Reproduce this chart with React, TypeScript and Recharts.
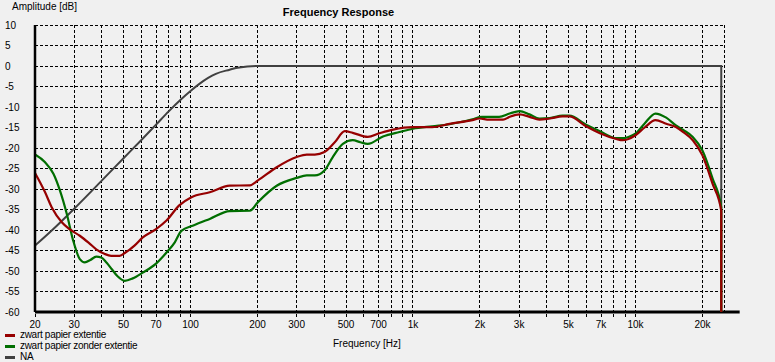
import React from 'react';
import { LineChart, Line, XAxis, YAxis, CartesianGrid, ReferenceLine } from 'recharts';

const redFreq = [20, 22.2, 23.8, 26.4, 28.6, 31.8, 35, 37.7, 41, 44, 48, 51, 56, 61, 70, 78, 89, 101, 122, 150, 185, 201, 244, 300, 333, 362, 400, 445, 494, 536, 626, 707, 814, 1000, 1220, 1460, 1850, 1990, 2200, 2540, 2720, 3010, 3340, 3700, 4120, 4700, 5040, 6000, 6920, 8200, 8760, 9300, 10000, 11000, 12300, 13750, 15200, 16400, 18100, 20000, 22200, 24300, 24301];
const redDb = [-26.1, -30.8, -34.5, -38.1, -39.8, -41.4, -43.2, -44.7, -45.8, -46.3, -46.3, -45.5, -43.8, -41.8, -39.8, -37.7, -34, -32, -30.8, -29.2, -29.1, -27.9, -24.7, -22.2, -21.6, -21.6, -21, -18.6, -15.9, -16.3, -17.3, -16.4, -15.5, -14.9, -14.9, -14.1, -13.2, -12.8, -13.1, -13.1, -12.4, -11.8, -12.4, -13.1, -12.8, -12.3, -12.3, -14.7, -16.4, -17.8, -18.1, -17.8, -16.9, -15, -13.2, -14.1, -14.9, -16.1, -18.1, -21.8, -28.7, -35.3, -60];

const greenFreq = [20, 22.2, 24.2, 25.9, 27.8, 29.7, 31.8, 33.5, 35.5, 37.7, 39.7, 42, 44.2, 47, 50.6, 55, 61, 70, 78, 85, 91, 103, 122, 150, 185, 201, 244, 300, 333, 362, 400, 436, 484, 536, 580, 626, 733, 870, 1000, 1220, 1460, 1850, 2040, 2440, 2720, 3010, 3340, 3700, 4120, 4700, 5040, 6000, 6920, 8200, 8760, 9300, 10000, 11000, 12300, 13750, 15200, 16400, 18100, 20000, 22200, 24300, 24301];
const greenDb = [-21.6, -23.5, -26.3, -30.4, -36.1, -42.6, -47.1, -47.9, -47.3, -46.5, -46.7, -48, -49.5, -51.3, -52.4, -51.8, -50.4, -48.2, -45.5, -43, -40.2, -38.9, -37.3, -35.4, -35.3, -33.2, -29.2, -27.3, -26.7, -26.7, -25.5, -22.2, -19, -18.1, -18.6, -19, -17.2, -16.1, -15.3, -14.7, -14.2, -13, -12.4, -12.4, -11.6, -11, -11.8, -12.8, -12.7, -12.1, -12.1, -14.3, -15.9, -17.6, -17.6, -17.3, -16.5, -14, -11.6, -12.6, -14.5, -15.6, -17.3, -20.6, -27.4, -34.5, -60];

const naFreq = [20, 25, 30, 40, 50, 60, 70, 80, 90, 100, 110, 120, 130, 150, 160, 180, 200, 1000, 10000, 24300, 24301];
const naDb = [-43.8, -39, -34.8, -27.9, -22.5, -18.1, -14.3, -11, -8.3, -6.1, -4.3, -2.9, -1.9, -0.9, -0.5, -0.1, 0, 0, 0, 0, -60];

const xTicks = [20, 30, 40, 50, 60, 70, 80, 90, 100, 200, 300, 400, 500, 600, 700, 800, 900, 1000, 2000, 3000, 4000, 5000, 6000, 7000, 8000, 9000, 10000, 20000];
const xLabels: Record<number, string> = { 20: '20', 30: '30', 50: '50', 70: '70', 100: '100', 200: '200', 300: '300', 500: '500', 700: '700', 1000: '1k', 2000: '2k', 3000: '3k', 5000: '5k', 7000: '7k', 10000: '10k', 20000: '20k' };
const yTicks = [-60, -55, -50, -45, -40, -35, -30, -25, -20, -15, -10, -5, 0, 5, 10];
const xDomain = [20, 25000];
const yDomain = [-60, 10];
const axisExtentHz = 29400;

const seriesNames = ['zwart papier extentie', 'zwart papier zonder extentie', 'NA'];
const seriesColors = ['#960000', '#006e00', '#404040'];

const toPoints = (fs: number[], vs: number[]) => fs.map((f, i) => ({ f, v: vs[i] }));
const redData = toPoints(redFreq, redDb);
const greenData = toPoints(greenFreq, greenDb);
const naData = toPoints(naFreq, naDb);

const FONT = '"Liberation Sans", Arial, sans-serif';

const XTick = (props: any) => {
  const { x, y, payload } = props;
  const label = xLabels[payload.value];
  if (!label) return null;
  return (
    <text x={x} y={y} dy={9} textAnchor="middle" fontSize={10} fontFamily={FONT} fill="#000">
      {label}
    </text>
  );
};

const YTick = (props: any) => {
  const { y, payload } = props;
  return (
    <text x={5} y={y} dy={3.5} textAnchor="start" fontSize={10} fontFamily={FONT} fill="#000">
      {payload.value}
    </text>
  );
};

export default function App() {
  return (
    <div style={{ position: 'absolute', left: 0, top: 0, width: 775, height: 362, background: '#f0f0f0', fontFamily: FONT, overflow: 'hidden' }}>
      <LineChart width={775} height={362} margin={{ top: 25, right: 51, bottom: 0, left: 0 }}>
        <CartesianGrid stroke="#000" strokeDasharray="3 2" strokeWidth={1} shapeRendering="crispEdges" />
        <XAxis
          type="number"
          dataKey="f"
          scale="log"
          domain={xDomain}
          ticks={xTicks}
          interval={0}
          allowDataOverflow
          height={50}
          axisLine={false}
          tickLine={{ stroke: '#000', strokeDasharray: '3 2', shapeRendering: 'crispEdges' }}
          tickSize={5}
          tick={<XTick />}
        />
        <YAxis
          type="number"
          domain={yDomain}
          ticks={yTicks}
          interval={0}
          allowDataOverflow
          width={35}
          axisLine={{ stroke: '#000', strokeWidth: 2.5 }}
          tickLine={false}
          tick={<YTick />}
        />
        <ReferenceLine
          segment={[{ x: xDomain[0], y: yDomain[0] }, { x: axisExtentHz, y: yDomain[0] }]}
          ifOverflow="visible"
          stroke="#000"
          strokeWidth={3}
        />
        <Line data={naData} dataKey="v" type="monotone" stroke={seriesColors[2]} strokeWidth={2} dot={false} isAnimationActive={false} />
        <Line data={greenData} dataKey="v" type="monotone" stroke={seriesColors[1]} strokeWidth={2.2} dot={false} isAnimationActive={false} />
        <Line data={redData} dataKey="v" type="monotone" stroke={seriesColors[0]} strokeWidth={2.2} dot={false} isAnimationActive={false} />
      </LineChart>
      <div style={{ position: 'absolute', left: 238, width: 201, top: 6.5, textAlign: 'center', fontSize: 11, lineHeight: '11px', fontWeight: 'bold', whiteSpace: 'nowrap' }}>
        Frequency Response
      </div>
      <div style={{ position: 'absolute', left: 12, top: 1.5, fontSize: 10, lineHeight: '10px', whiteSpace: 'nowrap' }}>
        Amplitude [dB]
      </div>
      <div style={{ position: 'absolute', left: 333, top: 338.5, fontSize: 10, lineHeight: '10px', whiteSpace: 'nowrap' }}>
        Frequency [Hz]
      </div>
      {seriesNames.map((name, i) => (
        <div key={name} style={{ position: 'absolute', left: 5, top: 330 + i * 11, height: 10, display: 'flex', alignItems: 'center', whiteSpace: 'nowrap' }}>
          <div style={{ width: 10, height: 3, background: seriesColors[i], marginRight: 5 }} />
          <span style={{ fontSize: 10, lineHeight: '10px', letterSpacing: -0.3 }}>{name}</span>
        </div>
      ))}
    </div>
  );
}
